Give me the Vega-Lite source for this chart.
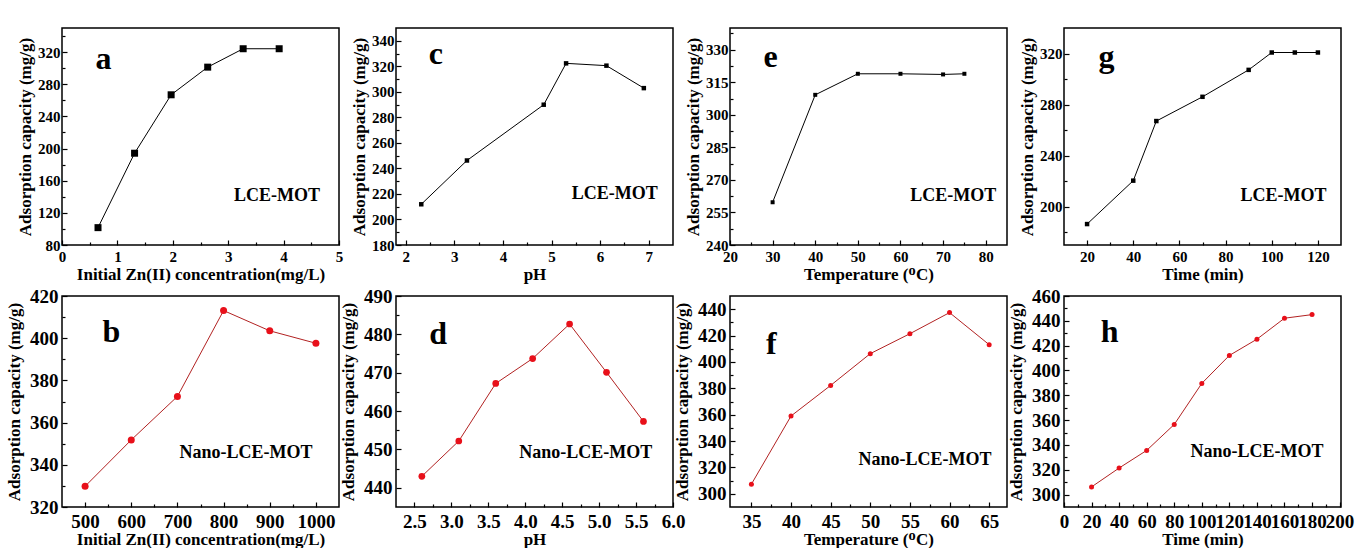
{
"$schema":"https://vega.github.io/schema/vega-lite/v6.json",
"background":"white",
"padding":{"left":4,"top":27,"right":0,"bottom":0},
"bounds":"flush",
"columns":4,
"spacing":{"row":51,"column":57},
"datasets":{
"a":[{"x":0.65,"y":101.6},{"x":1.31,"y":194.2},{"x":1.97,"y":266.9},{"x":2.63,"y":301.3},{"x":3.27,"y":324.2},{"x":3.92,"y":324.2}],
"c":[{"x":2.32,"y":211.9},{"x":3.26,"y":246.2},{"x":4.84,"y":289.9},{"x":5.30,"y":322.3},{"x":6.13,"y":320.5},{"x":6.90,"y":302.9}],
"e":[{"x":30,"y":259.7},{"x":40,"y":309.2},{"x":50,"y":318.9},{"x":60,"y":318.9},{"x":70,"y":318.6},{"x":75,"y":318.9}],
"g":[{"x":20,"y":186.4},{"x":40,"y":220.4},{"x":50,"y":267.1},{"x":70,"y":286.1},{"x":90,"y":307.2},{"x":100,"y":320.8},{"x":110,"y":320.8},{"x":120,"y":320.8}],
"b":[{"x":500,"y":329.8},{"x":600,"y":351.8},{"x":700,"y":372.4},{"x":800,"y":413.1},{"x":900,"y":403.5},{"x":1000,"y":397.6}],
"d":[{"x":2.6,"y":443.0},{"x":3.1,"y":452.2},{"x":3.6,"y":467.2},{"x":4.1,"y":473.7},{"x":4.6,"y":482.7},{"x":5.1,"y":470.1},{"x":5.6,"y":457.3}],
"f":[{"x":35,"y":307.3},{"x":40,"y":359.0},{"x":45,"y":382.2},{"x":50,"y":406.3},{"x":55,"y":421.4},{"x":60,"y":437.4},{"x":65,"y":413.1}],
"h":[{"x":20,"y":306.2},{"x":40,"y":321.4},{"x":60,"y":335.6},{"x":80,"y":356.5},{"x":100,"y":389.6},{"x":120,"y":412.1},{"x":140,"y":425.2},{"x":160,"y":442.1},{"x":180,"y":445.0}]
},
"concat":[
{"width":277,"height":217,"data":{"name":"a"},
"layer":[
{"mark":{"type":"line","color":"black","strokeWidth":1},
"encoding":{"x":{"field":"x","type":"quantitative","scale":{"domain":[0,5],"nice":false,"zero":false},"axis":{"values":[0,1,2,3,4,5],"format":"d","title":"Initial Zn(II) concentration(mg/L)","labelFontSize":15,"titleFontSize":17,"labelPadding":9.5,"titlePadding":2}},
"y":{"field":"y","type":"quantitative","scale":{"domain":[80,350],"nice":false,"zero":false},"axis":{"values":[80,120,160,200,240,280,320],"format":"d","title":"Adsorption capacity (mg/g)","labelFontSize":15,"titleFontSize":17,"labelPadding":7,"titlePadding":3}}}},
{"mark":{"type":"point","shape":"square","filled":true,"color":"black","size":49,"opacity":1},
"encoding":{"x":{"field":"x","type":"quantitative","scale":{"domain":[0,5],"nice":false,"zero":false},"axis":{"orient":"bottom","values":[0.5,1.5,2.5,3.5,4.5],"labels":false,"tickSize":-3,"title":null}},
"y":{"field":"y","type":"quantitative","scale":{"domain":[80,350],"nice":false,"zero":false},"axis":{"orient":"left","values":[100,140,180,220,260,300,340],"labels":false,"tickSize":-3,"title":null}}}},
{"data":{"values":[{"x":0.75,"y":299,"t":"a"}]},"mark":{"type":"text","fontSize":32,"fontWeight":"bold","align":"center","baseline":"alphabetic","color":"black"},
"encoding":{"x":{"field":"x","type":"quantitative","axis":null},"y":{"field":"y","type":"quantitative","axis":null},"text":{"field":"t"}}},
{"data":{"values":[{"x":3.88,"y":135,"t":"LCE-MOT"}]},"mark":{"type":"text","fontSize":18,"fontWeight":"bold","align":"center","baseline":"alphabetic","color":"black"},
"encoding":{"x":{"field":"x","type":"quantitative","axis":null},"y":{"field":"y","type":"quantitative","axis":null},"text":{"field":"t"}}}
],
"resolve":{"axis":{"x":"independent","y":"independent"}}},

{"width":277,"height":217,"data":{"name":"c"},
"layer":[
{"mark":{"type":"line","color":"black","strokeWidth":1},
"encoding":{"x":{"field":"x","type":"quantitative","scale":{"domain":[1.8,7.5],"nice":false,"zero":false},"axis":{"values":[2,3,4,5,6,7],"format":"d","title":"pH","labelFontSize":15,"titleFontSize":17,"labelPadding":9.5,"titlePadding":2}},
"y":{"field":"y","type":"quantitative","scale":{"domain":[180,350],"nice":false,"zero":false},"axis":{"values":[180,200,220,240,260,280,300,320,340],"format":"d","title":"Adsorption capacity (mg/g)","labelFontSize":15,"titleFontSize":17,"labelPadding":7,"titlePadding":3}}}},
{"mark":{"type":"point","shape":"square","filled":true,"color":"black","size":20,"opacity":1},
"encoding":{"x":{"field":"x","type":"quantitative","scale":{"domain":[1.8,7.5],"nice":false,"zero":false},"axis":{"orient":"bottom","values":[2.5,3.5,4.5,5.5,6.5],"labels":false,"tickSize":-3,"title":null}},
"y":{"field":"y","type":"quantitative","scale":{"domain":[180,350],"nice":false,"zero":false},"axis":{"orient":"left","values":[190,210,230,250,270,290,310,330],"labels":false,"tickSize":-3,"title":null}}}},
{"data":{"values":[{"x":2.62,"y":322,"t":"c"}]},"mark":{"type":"text","fontSize":32,"fontWeight":"bold","align":"center","baseline":"alphabetic","color":"black"},
"encoding":{"x":{"field":"x","type":"quantitative","axis":null},"y":{"field":"y","type":"quantitative","axis":null},"text":{"field":"t"}}},
{"data":{"values":[{"x":6.30,"y":216.4,"t":"LCE-MOT"}]},"mark":{"type":"text","fontSize":18,"fontWeight":"bold","align":"center","baseline":"alphabetic","color":"black"},
"encoding":{"x":{"field":"x","type":"quantitative","axis":null},"y":{"field":"y","type":"quantitative","axis":null},"text":{"field":"t"}}}
],
"resolve":{"axis":{"x":"independent","y":"independent"}}},

{"width":277,"height":217,"data":{"name":"e"},
"layer":[
{"mark":{"type":"line","color":"black","strokeWidth":1},
"encoding":{"x":{"field":"x","type":"quantitative","scale":{"domain":[20,85],"nice":false,"zero":false},"axis":{"values":[20,30,40,50,60,70,80],"format":"d","title":"Temperature (ᴼC)","labelFontSize":15,"titleFontSize":17,"labelPadding":9.5,"titlePadding":2}},
"y":{"field":"y","type":"quantitative","scale":{"domain":[240,340],"nice":false,"zero":false},"axis":{"values":[240,255,270,285,300,315,330],"format":"d","title":"Adsorption capacity (mg/g)","labelFontSize":15,"titleFontSize":17,"labelPadding":7,"titlePadding":3}}}},
{"mark":{"type":"point","shape":"square","filled":true,"color":"black","size":16,"opacity":1},
"encoding":{"x":{"field":"x","type":"quantitative","scale":{"domain":[20,85],"nice":false,"zero":false},"axis":{"orient":"bottom","values":[25,35,45,55,65,75],"labels":false,"tickSize":-3,"title":null}},
"y":{"field":"y","type":"quantitative","scale":{"domain":[240,340],"nice":false,"zero":false},"axis":{"orient":"left","values":[247.5,262.5,277.5,292.5,307.5,322.5,337.5],"labels":false,"tickSize":-3,"title":null}}}},
{"data":{"values":[{"x":29.5,"y":322,"t":"e"}]},"mark":{"type":"text","fontSize":32,"fontWeight":"bold","align":"center","baseline":"alphabetic","color":"black"},
"encoding":{"x":{"field":"x","type":"quantitative","axis":null},"y":{"field":"y","type":"quantitative","axis":null},"text":{"field":"t"}}},
{"data":{"values":[{"x":72.4,"y":260.1,"t":"LCE-MOT"}]},"mark":{"type":"text","fontSize":18,"fontWeight":"bold","align":"center","baseline":"alphabetic","color":"black"},
"encoding":{"x":{"field":"x","type":"quantitative","axis":null},"y":{"field":"y","type":"quantitative","axis":null},"text":{"field":"t"}}}
],
"resolve":{"axis":{"x":"independent","y":"independent"}}},

{"width":277,"height":217,"data":{"name":"g"},
"layer":[
{"mark":{"type":"line","color":"black","strokeWidth":1},
"encoding":{"x":{"field":"x","type":"quantitative","scale":{"domain":[10,130],"nice":false,"zero":false},"axis":{"values":[20,40,60,80,100,120],"format":"d","title":"Time (min)","labelFontSize":15,"titleFontSize":17,"labelPadding":9.5,"titlePadding":2}},
"y":{"field":"y","type":"quantitative","scale":{"domain":[170,340],"nice":false,"zero":false},"axis":{"values":[200,240,280,320],"format":"d","title":"Adsorption capacity (mg/g)","labelFontSize":15,"titleFontSize":17,"labelPadding":7,"titlePadding":3}}}},
{"mark":{"type":"point","shape":"square","filled":true,"color":"black","size":20,"opacity":1},
"encoding":{"x":{"field":"x","type":"quantitative","scale":{"domain":[10,130],"nice":false,"zero":false},"axis":{"orient":"bottom","values":[30,50,70,90,110],"labels":false,"tickSize":-3,"title":null}},
"y":{"field":"y","type":"quantitative","scale":{"domain":[170,340],"nice":false,"zero":false},"axis":{"orient":"left","values":[180,220,260,300],"labels":false,"tickSize":-3,"title":null}}}},
{"data":{"values":[{"x":28.4,"y":309.4,"t":"g"}]},"mark":{"type":"text","fontSize":32,"fontWeight":"bold","align":"center","baseline":"alphabetic","color":"black"},
"encoding":{"x":{"field":"x","type":"quantitative","axis":null},"y":{"field":"y","type":"quantitative","axis":null},"text":{"field":"t"}}},
{"data":{"values":[{"x":105.1,"y":204.2,"t":"LCE-MOT"}]},"mark":{"type":"text","fontSize":18,"fontWeight":"bold","align":"center","baseline":"alphabetic","color":"black"},
"encoding":{"x":{"field":"x","type":"quantitative","axis":null},"y":{"field":"y","type":"quantitative","axis":null},"text":{"field":"t"}}}
],
"resolve":{"axis":{"x":"independent","y":"independent"}}},

{"width":277,"height":211,"data":{"name":"b"},
"layer":[
{"mark":{"type":"line","color":"#b22222","strokeWidth":1},
"encoding":{"x":{"field":"x","type":"quantitative","scale":{"domain":[450,1050],"nice":false,"zero":false},"axis":{"values":[500,600,700,800,900,1000],"format":"d","title":"Initial Zn(II) concentration(mg/L)","labelFontSize":19,"titleFontSize":17,"labelPadding":10,"titlePadding":0}},
"y":{"field":"y","type":"quantitative","scale":{"domain":[320,420],"nice":false,"zero":false},"axis":{"values":[320,340,360,380,400,420],"format":"d","title":"Adsorption capacity (mg/g)","labelFontSize":19,"titleFontSize":17,"labelPadding":9,"titlePadding":6}}}},
{"mark":{"type":"point","shape":"circle","filled":true,"color":"#e8101a","size":49,"opacity":1},
"encoding":{"x":{"field":"x","type":"quantitative","scale":{"domain":[450,1050],"nice":false,"zero":false},"axis":{"orient":"bottom","values":[550,650,750,850,950],"labels":false,"tickSize":-3,"title":null}},
"y":{"field":"y","type":"quantitative","scale":{"domain":[320,420],"nice":false,"zero":false},"axis":{"orient":"left","values":[330,350,370,390,410],"labels":false,"tickSize":-3,"title":null}}}},
{"data":{"values":[{"x":557,"y":398,"t":"b"}]},"mark":{"type":"text","fontSize":32,"fontWeight":"bold","align":"center","baseline":"alphabetic","color":"black"},
"encoding":{"x":{"field":"x","type":"quantitative","axis":null},"y":{"field":"y","type":"quantitative","axis":null},"text":{"field":"t"}}},
{"data":{"values":[{"x":848.7,"y":343.3,"t":"Nano-LCE-MOT"}]},"mark":{"type":"text","fontSize":18,"fontWeight":"bold","align":"center","baseline":"alphabetic","color":"black"},
"encoding":{"x":{"field":"x","type":"quantitative","axis":null},"y":{"field":"y","type":"quantitative","axis":null},"text":{"field":"t"}}}
],
"resolve":{"axis":{"x":"independent","y":"independent"}}},

{"width":277,"height":211,"data":{"name":"d"},
"layer":[
{"mark":{"type":"line","color":"#b22222","strokeWidth":1},
"encoding":{"x":{"field":"x","type":"quantitative","scale":{"domain":[2.25,6.0],"nice":false,"zero":false},"axis":{"values":[2.5,3.0,3.5,4.0,4.5,5.0,5.5,6.0],"format":".1f","title":"pH","labelFontSize":19,"titleFontSize":17,"labelPadding":10,"titlePadding":0}},
"y":{"field":"y","type":"quantitative","scale":{"domain":[435,490],"nice":false,"zero":false},"axis":{"values":[440,450,460,470,480,490],"format":"d","title":"Adsorption capacity (mg/g)","labelFontSize":19,"titleFontSize":17,"labelPadding":9,"titlePadding":6}}}},
{"mark":{"type":"point","shape":"circle","filled":true,"color":"#e8101a","size":45,"opacity":1},
"encoding":{"x":{"field":"x","type":"quantitative","scale":{"domain":[2.25,6.0],"nice":false,"zero":false},"axis":{"orient":"bottom","values":[2.75,3.25,3.75,4.25,4.75,5.25,5.75],"labels":false,"tickSize":-3,"title":null}},
"y":{"field":"y","type":"quantitative","scale":{"domain":[435,490],"nice":false,"zero":false},"axis":{"orient":"left","values":[445,455,465,475,485],"labels":false,"tickSize":-3,"title":null}}}},
{"data":{"values":[{"x":2.82,"y":477.6,"t":"d"}]},"mark":{"type":"text","fontSize":32,"fontWeight":"bold","align":"center","baseline":"alphabetic","color":"black"},
"encoding":{"x":{"field":"x","type":"quantitative","axis":null},"y":{"field":"y","type":"quantitative","axis":null},"text":{"field":"t"}}},
{"data":{"values":[{"x":4.82,"y":447.8,"t":"Nano-LCE-MOT"}]},"mark":{"type":"text","fontSize":18,"fontWeight":"bold","align":"center","baseline":"alphabetic","color":"black"},
"encoding":{"x":{"field":"x","type":"quantitative","axis":null},"y":{"field":"y","type":"quantitative","axis":null},"text":{"field":"t"}}}
],
"resolve":{"axis":{"x":"independent","y":"independent"}}},

{"width":277,"height":211,"data":{"name":"f"},
"layer":[
{"mark":{"type":"line","color":"#b22222","strokeWidth":1},
"encoding":{"x":{"field":"x","type":"quantitative","scale":{"domain":[32.3,67.25],"nice":false,"zero":false},"axis":{"values":[35,40,45,50,55,60,65],"format":"d","title":"Temperature (ᴼC)","labelFontSize":19,"titleFontSize":17,"labelPadding":10,"titlePadding":0}},
"y":{"field":"y","type":"quantitative","scale":{"domain":[290,450],"nice":false,"zero":false},"axis":{"values":[300,320,340,360,380,400,420,440],"format":"d","title":"Adsorption capacity (mg/g)","labelFontSize":19,"titleFontSize":17,"labelPadding":9,"titlePadding":6}}}},
{"mark":{"type":"point","shape":"circle","filled":true,"color":"#e8101a","size":25,"opacity":1},
"encoding":{"x":{"field":"x","type":"quantitative","scale":{"domain":[32.3,67.25],"nice":false,"zero":false},"axis":{"orient":"bottom","values":[37.5,42.5,47.5,52.5,57.5,62.5],"labels":false,"tickSize":-3,"title":null}},
"y":{"field":"y","type":"quantitative","scale":{"domain":[290,450],"nice":false,"zero":false},"axis":{"orient":"left","values":[310,330,350,370,390,410,430],"labels":false,"tickSize":-3,"title":null}}}},
{"data":{"values":[{"x":37.5,"y":405.8,"t":"f"}]},"mark":{"type":"text","fontSize":32,"fontWeight":"bold","align":"center","baseline":"alphabetic","color":"black"},
"encoding":{"x":{"field":"x","type":"quantitative","axis":null},"y":{"field":"y","type":"quantitative","axis":null},"text":{"field":"t"}}},
{"data":{"values":[{"x":56.9,"y":321.5,"t":"Nano-LCE-MOT"}]},"mark":{"type":"text","fontSize":18,"fontWeight":"bold","align":"center","baseline":"alphabetic","color":"black"},
"encoding":{"x":{"field":"x","type":"quantitative","axis":null},"y":{"field":"y","type":"quantitative","axis":null},"text":{"field":"t"}}}
],
"resolve":{"axis":{"x":"independent","y":"independent"}}},

{"width":277,"height":211,"data":{"name":"h"},
"layer":[
{"mark":{"type":"line","color":"#b22222","strokeWidth":1},
"encoding":{"x":{"field":"x","type":"quantitative","scale":{"domain":[0,201],"nice":false,"zero":false},"axis":{"values":[0,20,40,60,80,100,120,140,160,180,200],"format":"d","title":"Time (min)","labelFontSize":19,"titleFontSize":17,"labelPadding":10,"titlePadding":0}},
"y":{"field":"y","type":"quantitative","scale":{"domain":[290,460],"nice":false,"zero":false},"axis":{"values":[300,320,340,360,380,400,420,440,460],"format":"d","title":"Adsorption capacity (mg/g)","labelFontSize":19,"titleFontSize":17,"labelPadding":9,"titlePadding":6}}}},
{"mark":{"type":"point","shape":"circle","filled":true,"color":"#e8101a","size":25,"opacity":1},
"encoding":{"x":{"field":"x","type":"quantitative","scale":{"domain":[0,201],"nice":false,"zero":false},"axis":{"orient":"bottom","values":[10,30,50,70,90,110,130,150,170,190],"labels":false,"tickSize":-3,"title":null}},
"y":{"field":"y","type":"quantitative","scale":{"domain":[290,460],"nice":false,"zero":false},"axis":{"orient":"left","values":[310,330,350,370,390,410,430,450],"labels":false,"tickSize":-3,"title":null}}}},
{"data":{"values":[{"x":33.1,"y":423,"t":"h"}]},"mark":{"type":"text","fontSize":32,"fontWeight":"bold","align":"center","baseline":"alphabetic","color":"black"},
"encoding":{"x":{"field":"x","type":"quantitative","axis":null},"y":{"field":"y","type":"quantitative","axis":null},"text":{"field":"t"}}},
{"data":{"values":[{"x":140,"y":329.9,"t":"Nano-LCE-MOT"}]},"mark":{"type":"text","fontSize":18,"fontWeight":"bold","align":"center","baseline":"alphabetic","color":"black"},
"encoding":{"x":{"field":"x","type":"quantitative","axis":null},"y":{"field":"y","type":"quantitative","axis":null},"text":{"field":"t"}}}
],
"resolve":{"axis":{"x":"independent","y":"independent"}}}
],
"config":{
"view":{"stroke":"black","strokeWidth":1.5},
"font":"Liberation Serif",
"axis":{"domain":false,"grid":false,"tickColor":"black","tickWidth":1.2,"tickSize":-5,"labelColor":"black","titleColor":"black","labelFont":"Liberation Serif","titleFont":"Liberation Serif","labelFontWeight":"bold","titleFontWeight":"bold","labelOverlap":false,"labelFlush":false,"labelBound":false},
"text":{"font":"Liberation Serif"}
}
}
